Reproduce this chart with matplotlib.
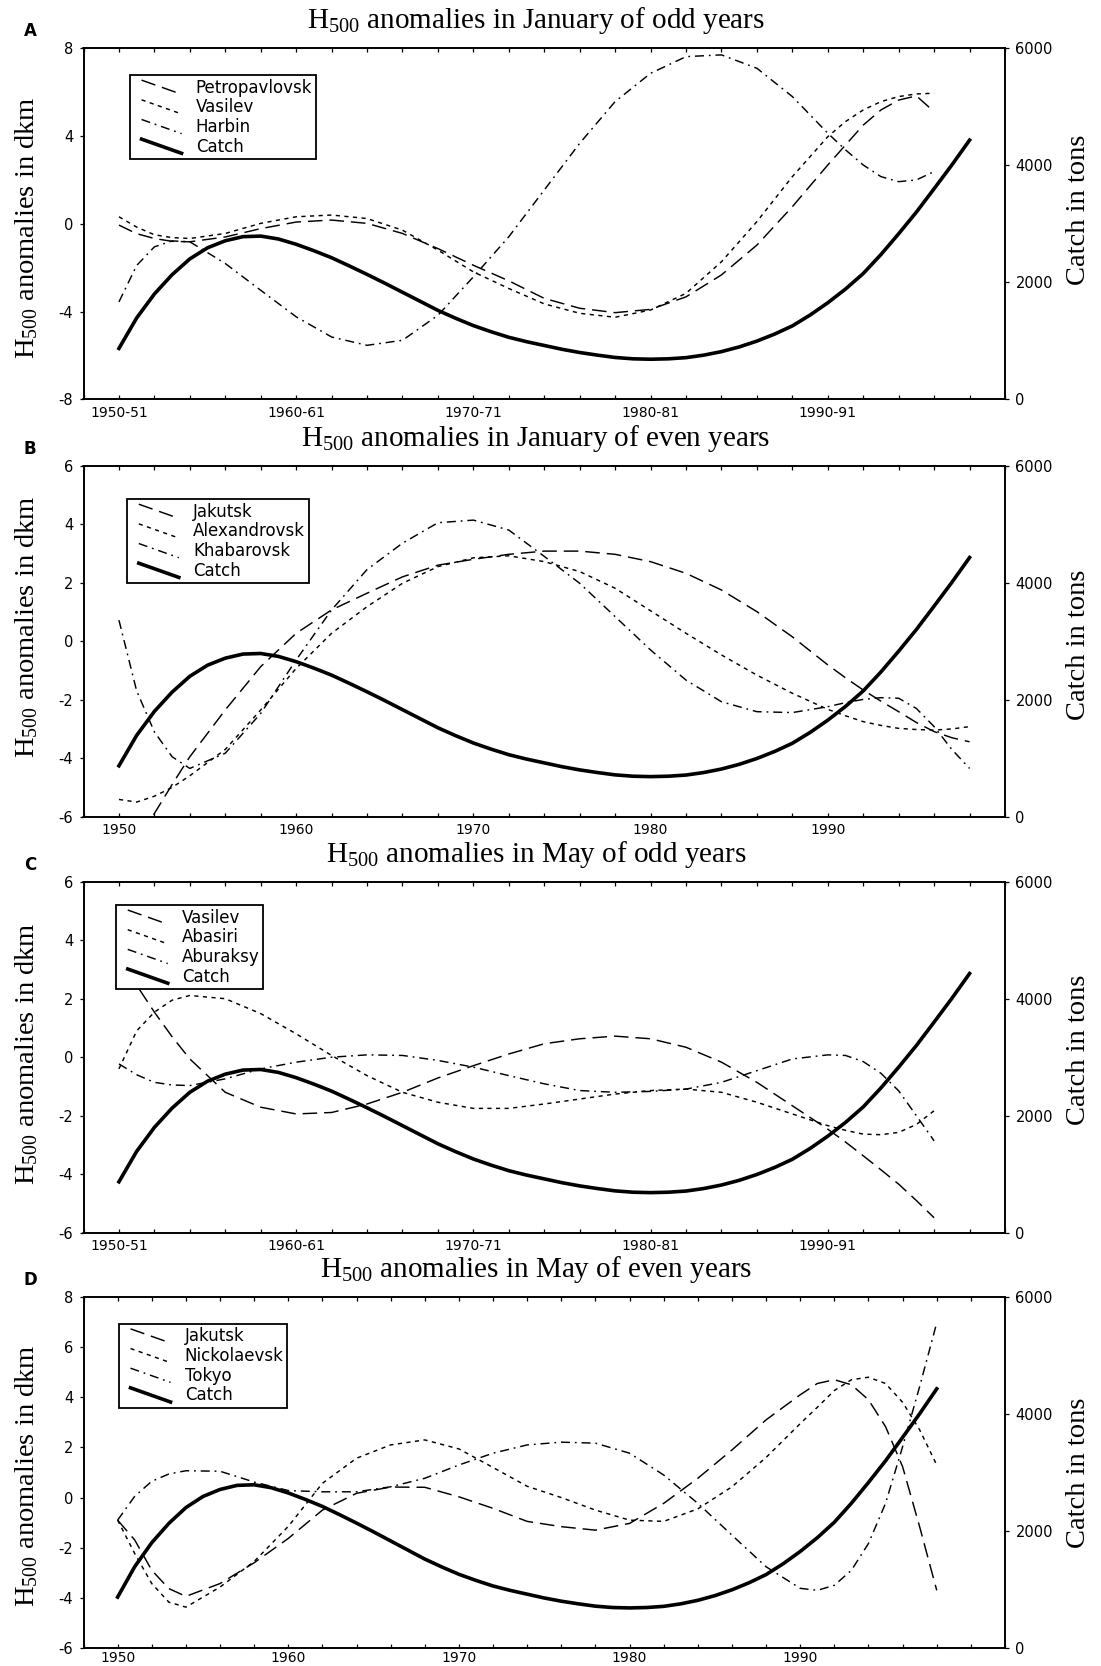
import matplotlib
matplotlib.use('Agg')
import matplotlib.pyplot as plt
from matplotlib.lines import Line2D
from matplotlib.legend_handler import HandlerLine2D
from matplotlib.ticker import FixedLocator, MultipleLocator

plt.rcParams['font.family'] = 'DejaVu Sans'
plt.rcParams['axes.unicode_minus'] = False
plt.rcParams['lines.scale_dashes'] = False

# --- data ---
years_odd = [1950, 1951, 1952, 1953, 1954, 1956, 1958, 1960, 1962, 1964, 1966, 1968,
             1970, 1972, 1974, 1976, 1978, 1980, 1982, 1984, 1986, 1988,
             1990, 1991, 1992, 1993, 1994, 1995, 1996]
years_even = years_odd + [1997, 1998]

years_catch = list(range(1950, 1999))
catch_tons = [870, 1390, 1800, 2130, 2400, 2590, 2710, 2780, 2790, 2740,
              2650, 2540, 2420, 2280, 2135, 1985, 1830, 1675, 1520, 1385,
              1260, 1155, 1060, 985, 920, 855, 800, 755, 715, 692,
              685, 692, 712, 755, 815, 895, 995, 1115, 1255, 1440,
              1650, 1885, 2150, 2475, 2830, 3200, 3600, 4005, 4430]

# A: January, odd years
petropavlovsk_jan = [-0.06, -0.45, -0.67, -0.80, -0.82, -0.60, -0.22, 0.08, 0.17, 0.02, -0.44, -1.13,
                     -1.89, -2.60, -3.40, -3.85, -4.05, -3.90, -3.33, -2.33, -0.97, 0.78,
                     2.68, 3.59, 4.50, 5.19, 5.64, 5.83, 5.11]
vasilev_jan = [0.32, -0.15, -0.50, -0.63, -0.67, -0.44, 0.02, 0.32, 0.40, 0.24, -0.29, -1.20,
               -2.19, -2.95, -3.65, -4.08, -4.26, -3.93, -3.17, -1.73, 0.10, 2.15,
               3.97, 4.66, 5.19, 5.57, 5.80, 5.92, 5.95]
harbin_jan = [-3.56, -1.90, -1.05, -0.78, -0.82, -1.81, -3.03, -4.24, -5.16, -5.54, -5.31, -4.17,
              -2.42, -0.59, 1.54, 3.67, 5.57, 6.86, 7.62, 7.70, 7.09, 5.80,
              4.13, 3.37, 2.68, 2.15, 1.92, 2.00, 2.38]

# B: January, even years
jakutsk_jan = [-7.80, -6.80, -5.89, -4.90, -3.95, -2.35, -0.87, 0.27, 1.07, 1.64, 2.20, 2.60,
               2.80, 2.97, 3.08, 3.08, 2.97, 2.72, 2.32, 1.75, 1.01, 0.15,
               -0.81, -1.25, -1.67, -2.05, -2.41, -2.78, -3.09, -3.30, -3.44]
alexandrovsk_jan = [-5.41, -5.50, -5.30, -5.00, -4.60, -3.70, -2.35, -0.93, 0.27, 1.18, 1.98, 2.55,
                    2.85, 2.92, 2.72, 2.38, 1.81, 1.04, 0.27, -0.47, -1.16, -1.78,
                    -2.33, -2.55, -2.75, -2.88, -2.98, -3.02, -3.04, -3.00, -2.92]
khabarovsk_jan = [0.72, -1.70, -3.10, -3.95, -4.35, -3.83, -2.47, -0.64, 1.07, 2.45, 3.35, 4.05,
                  4.14, 3.80, 2.90, 1.98, 0.84, -0.30, -1.33, -2.07, -2.41, -2.44,
                  -2.24, -2.10, -1.99, -1.93, -1.95, -2.30, -2.92, -3.70, -4.35]

# C: May, odd years
vasilev_may = [3.60, 2.46, 1.54, 0.70, -0.06, -1.20, -1.71, -1.94, -1.89, -1.60, -1.20, -0.71,
               -0.29, 0.11, 0.46, 0.63, 0.72, 0.63, 0.34, -0.17, -0.86, -1.66,
               -2.46, -2.90, -3.37, -3.85, -4.34, -4.90, -5.49]
abasiri_may = [-0.40, 0.90, 1.54, 1.95, 2.11, 2.00, 1.49, 0.80, 0.06, -0.63, -1.20, -1.54,
               -1.75, -1.75, -1.60, -1.43, -1.26, -1.14, -1.09, -1.20, -1.54, -1.94,
               -2.34, -2.50, -2.63, -2.65, -2.57, -2.30, -1.83]
aburaksy_may = [-0.23, -0.60, -0.86, -0.95, -0.97, -0.74, -0.40, -0.17, 0.00, 0.08, 0.06, -0.11,
                -0.34, -0.63, -0.91, -1.14, -1.20, -1.17, -1.09, -0.86, -0.46, -0.06,
                0.08, 0.06, -0.15, -0.55, -1.15, -2.00, -2.86]

# D: May, even years
jakutsk_may = [-0.90, -1.69, -2.90, -3.63, -3.94, -3.43, -2.60, -1.63, -0.50, 0.17, 0.42, 0.41,
               0.03, -0.43, -0.95, -1.16, -1.30, -1.03, -0.23, 0.77, 1.90, 3.10,
               4.10, 4.55, 4.70, 4.50, 3.90, 2.83, 1.23, -1.17, -3.70]
nickolaevsk_may = [-0.90, -2.23, -3.43, -4.17, -4.37, -3.57, -2.55, -1.15, 0.57, 1.57, 2.10, 2.30,
                   1.94, 1.20, 0.45, 0.00, -0.50, -0.90, -0.95, -0.45, 0.43, 1.60,
                   2.95, 3.60, 4.27, 4.70, 4.80, 4.55, 3.80, 2.70, 1.30]
tokyo_may = [-0.90, 0.05, 0.65, 0.94, 1.07, 1.05, 0.62, 0.28, 0.23, 0.23, 0.43, 0.77,
             1.30, 1.77, 2.10, 2.21, 2.17, 1.77, 0.90, -0.23, -1.50, -2.76,
             -3.62, -3.70, -3.50, -2.90, -1.83, -0.23, 2.03, 4.43, 6.97]

letters = ['A', 'B', 'C', 'D']
titles = [r'H$\mathregular{_{500}}$ anomalies in January of odd years',
          r'H$\mathregular{_{500}}$ anomalies in January of even years',
          r'H$\mathregular{_{500}}$ anomalies in May of odd years',
          r'H$\mathregular{_{500}}$ anomalies in May of even years']
station_names = [['Petropavlovsk', 'Vasilev', 'Harbin'],
                 ['Jakutsk', 'Alexandrovsk', 'Khabarovsk'],
                 ['Vasilev', 'Abasiri', 'Aburaksy'],
                 ['Jakutsk', 'Nickolaevsk', 'Tokyo']]
season_labels = ['1950-51', '1960-61', '1970-71', '1980-81', '1990-91']
year_labels = ['1950', '1960', '1970', '1980', '1990']
decades = [1950, 1960, 1970, 1980, 1990]


class SlantedLine(HandlerLine2D):
    """Legend sample drawn as a short slanted stroke, like the original."""
    def create_artists(self, legend, orig_handle, xdescent, ydescent,
                       width, height, fontsize, trans):
        x0 = -xdescent + 0.5 * fontsize
        x1 = -xdescent + width
        y0 = -ydescent + height + 0.05 * fontsize
        y1 = -ydescent - 0.1 * fontsize
        line = Line2D([x0, x1], [y0, y1])
        self.update_prop(line, orig_handle, legend)
        line.set_transform(trans)
        return [line]


LONG = (0, (10.5, 5.0))
DOT = (0, (3.0, 3.2))
DASHDOT = (0, (6.5, 3.5, 1.3, 3.5))
styles = [LONG, DOT, DASHDOT]

panels = [
    (years_odd, [petropavlovsk_jan, vasilev_jan, harbin_jan], (-8, 8), [-8, -4, 0, 4, 8], 2000, season_labels),
    (years_even, [jakutsk_jan, alexandrovsk_jan, khabarovsk_jan], (-6, 6), [-6, -4, -2, 0, 2, 4, 6], 2000, year_labels),
    (years_odd, [vasilev_may, abasiri_may, aburaksy_may], (-6, 6), [-6, -4, -2, 0, 2, 4, 6], 2000, season_labels),
    (years_even, [jakutsk_may, nickolaevsk_may, tokyo_may], (-6, 8), [-6, -4, -2, 0, 2, 4, 6, 8], 2002, year_labels),
]

# layout in pixels of the 1101 x 1666 canvas
W, H = 1101, 1666
ax_left, ax_width, ax_height = 83.5, 921.5, 351
ax_tops = [48.3, 465.7, 881.7, 1297.0]
legend_anchor = [(0.050, 0.924), (0.047, 0.905), (0.035, 0.934), (0.038, 0.924)]
ylab_pos = [0.49, 0.54, 0.51, 0.49]
clab_pos = [0.54, 0.49, 0.52, 0.50]
xlabel_pad = [4.5, 4.5, 4.5, 2.2]

fig = plt.figure(figsize=(W / 100, H / 100), dpi=100)
fig.patch.set_facecolor('white')

for i, (yrs, series, ylim, yticks, xmax, xlabels) in enumerate(panels):
    bottom = 1 - (ax_tops[i] + ax_height) / H
    ax = fig.add_axes([ax_left / W, bottom, ax_width / W, ax_height / H])
    ax2 = ax.twinx()

    for vals, name, ls in zip(series, station_names[i], styles):
        ax.plot(yrs, vals, color='black', lw=1.05, linestyle=ls, label=name)
    ax2.plot(years_catch, catch_tons, color='black', lw=2.6, label='Catch')

    ax.set_xlim(1948, xmax)
    ax.set_ylim(*ylim)
    ax.set_yticks(yticks)
    ax.set_yticklabels([str(t) for t in yticks])
    ax2.set_ylim(0, 6000)
    ax2.set_yticks([0, 2000, 4000, 6000])

    ax.xaxis.set_major_locator(FixedLocator(decades))
    ax.set_xticklabels(xlabels)
    ax.xaxis.set_minor_locator(MultipleLocator(2))
    ax.tick_params(axis='x', which='both', direction='in', top=True, bottom=True,
                   length=3, width=0.9, labelsize=10, pad=xlabel_pad[i])
    ax.tick_params(axis='y', direction='out', length=3, width=0.9, labelsize=10.5, pad=4.5)
    ax2.tick_params(axis='y', direction='out', length=3, width=0.9, labelsize=10.5, pad=4.5)
    for a in (ax, ax2):
        for sp in a.spines.values():
            sp.set_linewidth(1.2)

    ax.set_title(titles[i], fontfamily='Liberation Serif', fontsize=21, pad=14.5, x=0.491)
    ax.set_ylabel(r'H$\mathregular{_{500}}$ anomalies in dkm', fontfamily='Liberation Serif', fontsize=20.5)
    ax.yaxis.set_label_coords(-0.047, ylab_pos[i])
    ax2.set_ylabel('Catch in tons', fontfamily='Liberation Serif', fontsize=20.5)
    ax2.yaxis.set_label_coords(1.066, clab_pos[i])

    ax.text(-0.058, 1.048, letters[i], transform=ax.transAxes, fontsize=12,
            fontweight='bold', ha='center', va='center')

    handles = ax.get_lines() + ax2.get_lines()
    leg = ax2.legend(handles, [h.get_label() for h in handles], loc='upper left',
                     bbox_to_anchor=legend_anchor[i], borderaxespad=0, fancybox=False,
                     edgecolor='black', framealpha=1, fontsize=12, handlelength=2.9,
                     handletextpad=0.85, labelspacing=0.1, borderpad=0.22,
                     handler_map={Line2D: SlantedLine()})
    leg.get_frame().set_linewidth(1.3)
    leg.set_zorder(10)

fig.savefig('out.png', dpi=100)
